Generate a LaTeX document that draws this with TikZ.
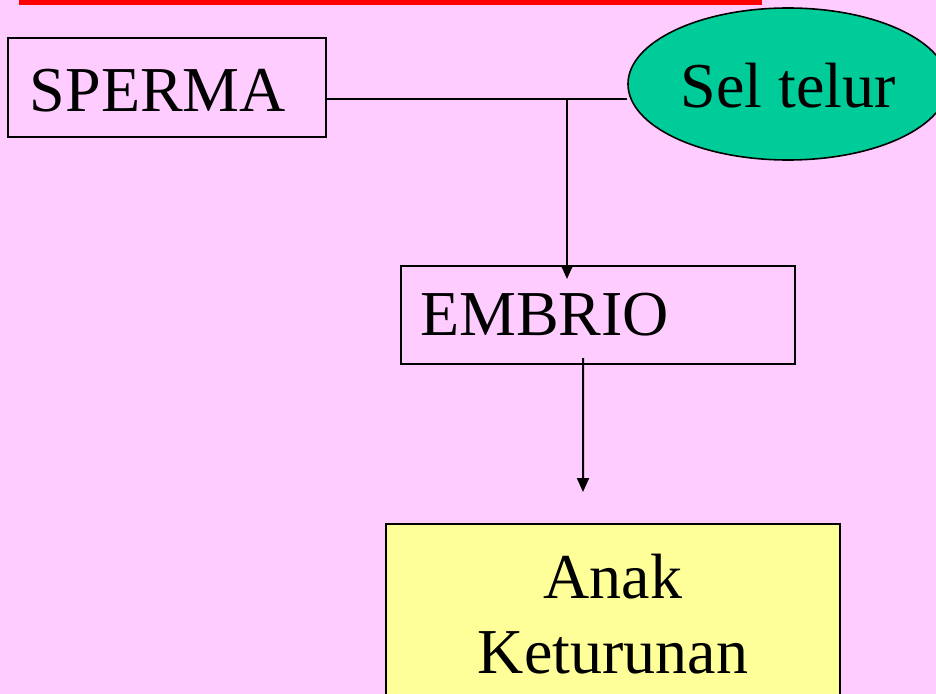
\documentclass[tikz,border=0pt]{standalone}
\usepackage{fontspec}
\setmainfont{Liberation Serif}
\usetikzlibrary{shapes.geometric,arrows.meta}
\definecolor{bgpink}{HTML}{FFCCFF}
\definecolor{eggreen}{HTML}{00CC99}
\definecolor{anakyellow}{HTML}{FFFF99}
\tikzset{
	box/.style={draw, line width=2bp, inner sep=0pt, font=\fontsize{64bp}{75bp}\selectfont},
	eggshape/.style={ellipse, draw, fill=eggreen, line width=1.6bp, inner sep=0pt, font=\fontsize{64bp}{75bp}\selectfont},
	arrowline/.style={line width=2bp, -{Triangle[width=12bp,length=14bp]}}
}
\begin{document}
\begin{tikzpicture}[x=1bp, y=-1bp]
	\fill [bgpink] (0,0) rectangle (936,694);
	\useasboundingbox (0,0) rectangle (936,694);
	\clip (0,0) rectangle (936,694);
	\fill [red] (19,0) rectangle (762,5);
	\node (sperma) [box, inner xsep=22bp, text width=274bp, text height=48bp, align=left, minimum height=99bp] at (167,87.5) {SPERMA};
	\node (telur) [eggshape, text height=48bp, minimum width=320bp, minimum height=152bp] at (788,84) {Sel telur};
	\node (embrio) [box, inner xsep=19bp, text width=356bp, align=left, minimum height=98bp] at (598,315) {EMBRIO};
	\node (anak) [box, fill=anakyellow, minimum width=454bp, minimum height=180bp, align=center, anchor=north] at (613,523) {Anak\\Keturunan};
	\coordinate (join) at (567,99);
	\draw [line width=2bp] (sperma.east |- join) -- (join -| telur.west);
	\draw [arrowline] (join) -- ([yshift=-14bp]join |- embrio.north);
	\draw [arrowline] ([xshift=-15bp, yshift=7bp]embrio.south) -- ([xshift=-30bp, yshift=31bp]anak.north);
\end{tikzpicture}
\end{document}
